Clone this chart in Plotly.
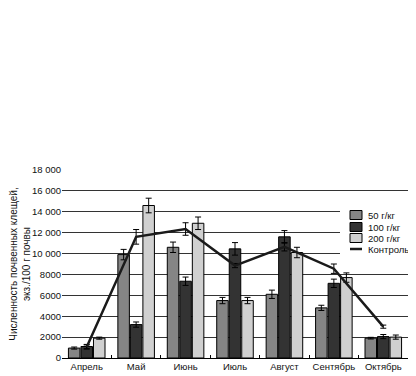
import plotly.graph_objects as go

months = ["Апрель", "Май", "Июнь", "Июль", "Август", "Сентябрь", "Октябрь"]
v50 = [950, 9900, 10600, 5500, 6100, 4800, 1900]
e50 = [100, 500, 500, 300, 400, 250, 80]
v100 = [1100, 3200, 7350, 10450, 11600, 7150, 2050]
e100 = [200, 250, 400, 600, 600, 400, 200]
v200 = [1900, 14600, 12900, 5500, 10100, 7700, 2000]
e200 = [100, 700, 600, 300, 500, 450, 200]
control = [1050, 11600, 12350, 8850, 10650, 8550, 3000]
econtrol = [200, 700, 600, 200, 400, 450, 150]

yticks = [0, 2000, 4000, 6000, 8000, 10000, 12000, 14000, 16000, 18000]
yticklabels = ["0", "2000", "4000", "6000", "8000", "10 000", "12 000", "14 000", "16 000", "18 000"]

names = ["50 г/кг", "100 г/кг", "200 г/кг", "Контроль"]
colors = ["#858585", "#333333", "#d0d0d0", "#1a1a1a"]

font = "Liberation Sans, Arial, sans-serif"

# the page body has an 8px margin; work in window pixels and shift
OFF = 8
WIN_W, WIN_H = 416, 376
W, H = WIN_W - OFF, WIN_H - OFF
X0, X1 = 62, 408      # plot area in window px
Y0, Y1 = 170, 358
L, R, T, B = X0 - OFF, W - (X1 - OFF), Y0 - OFF, H - (Y1 - OFF)
PW, PH = X1 - X0, Y1 - Y0

def px(x):
    return (x - X0) / PW

def py(y):
    return (Y1 - y) / PH

def bar(name, y, e, color):
    return go.Bar(
        name=name, x=months, y=y,
        marker=dict(color=color, line=dict(color="black", width=1)),
        error_y=dict(type="data", array=e, color="black", thickness=1, width=3),
    )

fig = go.Figure()
fig.add_trace(bar(names[0], v50, e50, colors[0]))
fig.add_trace(bar(names[1], v100, e100, colors[1]))
fig.add_trace(bar(names[2], v200, e200, colors[2]))
fig.add_trace(go.Scatter(
    name=names[3], x=months, y=control, mode="lines",
    line=dict(color=colors[3], width=2.5),
    error_y=dict(type="data", array=econtrol, color="black", thickness=1, width=3),
))

# manual compact legend
shapes = [dict(type="rect", xref="paper", yref="paper", layer="above",
               x0=px(340), x1=px(416), y0=py(256), y1=py(207),
               fillcolor="white", line=dict(width=0))]
annotations = []
rows = [215, 227, 238, 249]
for i, (n, c, r) in enumerate(zip(names, colors, rows)):
    if i < 3:
        shapes.append(dict(type="rect", xref="paper", yref="paper", layer="above",
                           x0=px(350), x1=px(362), y0=py(r + 4.5), y1=py(r - 4.5),
                           fillcolor=c, line=dict(color="black", width=1)))
    else:
        shapes.append(dict(type="line", xref="paper", yref="paper", layer="above",
                           x0=px(350), x1=px(362), y0=py(r), y1=py(r),
                           line=dict(color=c, width=2.5)))
    annotations.append(dict(xref="paper", yref="paper", x=px(366), y=py(r),
                            xanchor="left", yanchor="middle", showarrow=False,
                            text=n, font=dict(size=9.5, color="#111")))

fig.update_layout(
    width=W, height=H,
    margin=dict(l=L, r=R, t=T, b=B, pad=0),
    paper_bgcolor="white", plot_bgcolor="white",
    barmode="group", bargap=0.24, bargroupgap=0.08,
    font=dict(family=font, size=10, color="#111"),
    showlegend=False,
    shapes=shapes, annotations=annotations,
    xaxis=dict(showline=True, linecolor="black", linewidth=1,
               ticks="inside", ticklen=3, tickcolor="black",
               tickson="boundaries", showgrid=False, tickangle=0,
               automargin=False, tickfont=dict(size=9.5)),
    yaxis=dict(range=[0, 18000], tickvals=yticks, ticktext=yticklabels,
               showgrid=True, gridcolor="#333", gridwidth=1,
               zeroline=False, showline=False, ticks="",
               automargin=False, tickfont=dict(size=9.5),
               title=dict(text="Численность почвенных клещей,<br>экз./100 г почвы",
                          font=dict(size=10), standoff=4)),
)

fig.write_html("out.html")
